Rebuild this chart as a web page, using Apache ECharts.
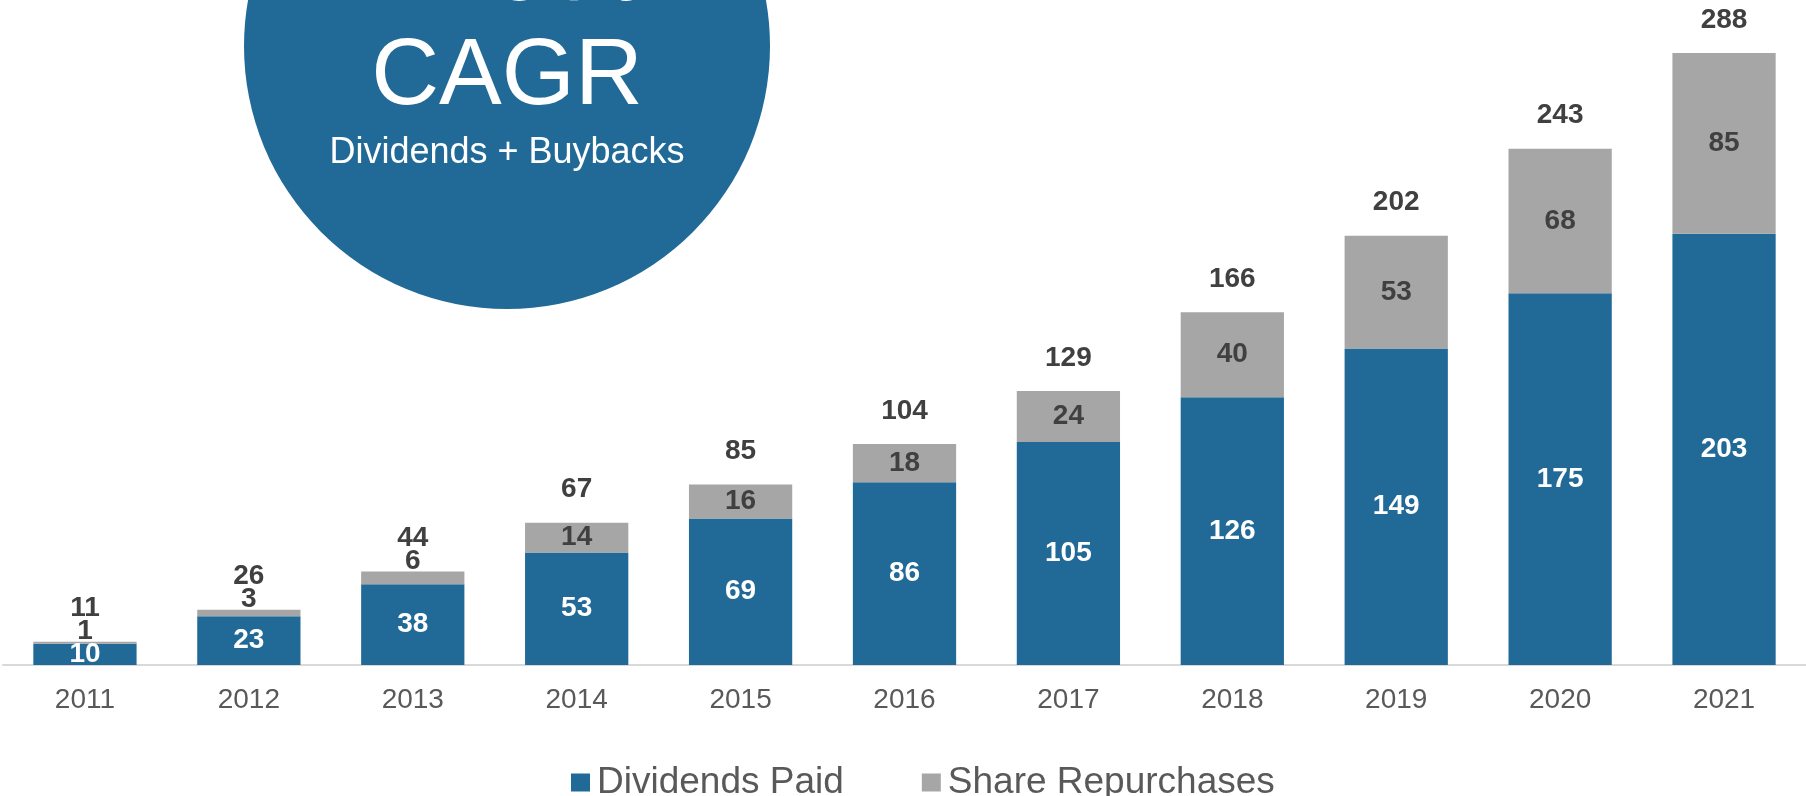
<!DOCTYPE html>
<html>
<head>
<meta charset="utf-8">
<script src="https://cdn.jsdelivr.net/npm/echarts@6/dist/echarts.min.js"></script>
<style>
  html, body { margin: 0; padding: 0; background: #fff; }
  #chart { width: 1806px; height: 796px; }
</style>
</head>
<body>
<div id="chart"></div>
<script>
// 数据
const years = ['2011', '2012', '2013', '2014', '2015', '2016', '2017', '2018', '2019', '2020', '2021']
const dividends = [10, 23, 38, 53, 69, 86, 105, 126, 149, 175, 203]
const repurchases = [1, 3, 6, 14, 16, 18, 24, 40, 53, 68, 85]
const totals = [11, 26, 44, 67, 85, 104, 129, 166, 202, 243, 288]

const BLUE = '#216a97'
const GRAY = '#a6a6a6'
const FONT = 'Arial, "Liberation Sans", sans-serif'

const chart = echarts.init(document.getElementById('chart'))

// 小段的标签放到柱子上方
const repurchaseData = repurchases.map((v) =>
  v < 10
    ? { value: v, label: { position: 'top', distance: -4 } }
    : v
)

const option = {
  animation: false,
  grid: { left: 3, right: 0, top: 27.5, bottom: 131 },
  legend: {
    data: ['Dividends Paid', 'Share Repurchases'],
    left: 566,
    top: 759,
    icon: 'rect',
    itemWidth: 19,
    itemHeight: 18,
    itemGap: 78,
    textStyle: { fontFamily: FONT, fontSize: 37, color: '#595959', padding: [0, 0, 0, 2] },
  },
  xAxis: {
    type: 'category',
    data: years,
    axisLine: { lineStyle: { color: '#d9d9d9', width: 2 } },
    axisTick: { show: false },
    axisLabel: { fontFamily: FONT, fontSize: 28, color: '#595959', margin: 21 },
  },
  yAxis: {
    type: 'value',
    min: 0,
    max: 300,
    show: false,
    splitLine: { show: false },
  },
  series: [
    {
      name: 'Dividends Paid',
      type: 'bar',
      stack: 'total',
      barWidth: '63%',
      itemStyle: { color: BLUE },
      label: {
        show: true,
        position: 'inside',
        fontFamily: FONT,
        fontSize: 28,
        fontWeight: 'bold',
        color: '#fff',
      },
      data: dividends,
    },
    {
      name: 'Share Repurchases',
      type: 'bar',
      stack: 'total',
      itemStyle: { color: GRAY },
      label: {
        show: true,
        position: 'inside',
        fontFamily: FONT,
        fontSize: 28,
        fontWeight: 'bold',
        color: '#404040',
      },
      data: repurchaseData,
    },
    {
      // 总额标签
      name: 'Total',
      type: 'bar',
      stack: 'total',
      itemStyle: { color: 'transparent' },
      label: {
        show: true,
        position: 'top',
        distance: 19,
        fontFamily: FONT,
        fontSize: 28,
        fontWeight: 'bold',
        color: '#404040',
        formatter: (p) => totals[p.dataIndex],
      },
      data: totals.map(() => 0),
    },
  ],
  graphic: [
    {
      type: 'circle',
      shape: { cx: 507, cy: 46, r: 263 },
      style: { fill: BLUE },
      z: 0,
    },
    {
      type: 'text',
      style: { text: '210%', x: 507, y: -30, align: 'center', verticalAlign: 'middle', font: '110px ' + FONT, fill: '#fff' },
      z: 1,
    },
    {
      type: 'text',
      style: { text: 'CAGR', x: 507, y: 78, align: 'center', verticalAlign: 'middle', font: '94px ' + FONT, fill: '#fff' },
      z: 1,
    },
    {
      type: 'text',
      style: { text: 'Dividends + Buybacks', x: 507, y: 153, align: 'center', verticalAlign: 'middle', font: '36px ' + FONT, fill: '#fff' },
      z: 1,
    },
  ],
}

chart.setOption(option)
</script>
</body>
</html>
